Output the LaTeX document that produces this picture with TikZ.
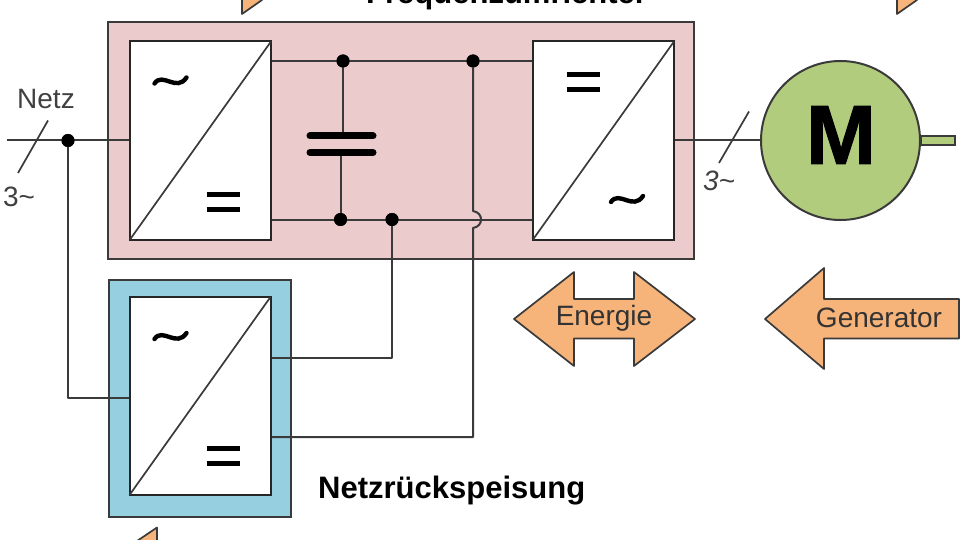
\documentclass[tikz,border=0pt]{standalone}
\usepackage{fontspec}
\setmainfont{Liberation Sans}
\newfontface\mface[FakeBold=1.2]{Liberation Sans Bold}
\usetikzlibrary{calc}
\definecolor{pinkbg}{HTML}{EBCBCC}
\definecolor{bluebg}{HTML}{96CFDF}
\definecolor{motor}{HTML}{B2CC7E}
\definecolor{arrowfill}{HTML}{F6B47A}
\definecolor{wire}{HTML}{3A3A3A}
\tikzset{
  x=1pt,y=-1pt,
  frame/.style={draw=wire,line width=2pt,anchor=north west,inner sep=0pt,outer sep=0pt},
  conv/.style={draw=black!85,line width=2pt,fill=white,anchor=north west,inner sep=0pt,outer sep=0pt,minimum width=141pt,minimum height=198pt},
  wireline/.style={draw=wire,line width=2pt,line join=round},
  thinline/.style={draw=wire,line width=1.7pt},
  dotnode/.style={circle,fill=black,inner sep=0pt,minimum size=13pt,outer sep=0pt},
  eqbar/.style={draw=black,line width=4.6pt},
  lbl/.style={inner sep=0pt,text=black!75,font=\fontsize{28}{28}\selectfont},
  title/.style={inner sep=0pt,font=\fontsize{31}{31}\selectfont\bfseries,text=black},
  arrowshape/.style={draw=wire,line width=1.7pt,fill=arrowfill,line join=round},
  arrowtext/.style={inner sep=0pt,text=black!80,font=\fontsize{28}{28}\selectfont},
}
\newcommand{\acsign}[2]{\draw[line width=4.4pt,line cap=round,black] (#1-16,#2+3) .. controls (#1-8,#2-9) and (#1+6,#2+12) .. (#1+16,#2-3);}
\newcommand{\eqsign}[2]{\draw[eqbar] (#1-16.5,#2-7.5) -- (#1+16.5,#2-7.5) (#1-16.5,#2+7.5) -- (#1+16.5,#2+7.5);}
\begin{document}
\begin{tikzpicture}
\useasboundingbox (0,0) rectangle (960,540);
\clip (0,0) rectangle (960,540);
% frames
\node[frame,fill=pinkbg,minimum width=586pt,minimum height=237pt] (fu) at (108,22) {};
\node[frame,fill=bluebg,minimum width=182pt,minimum height=237pt] (nr) at (108.5,280) {};
% coordinates and dots
\node[dotnode] (dn) at (68,140.5) {};
\node[dotnode] (dt1) at (343,61) {};
\node[dotnode] (dt2) at (473,61) {};
\node[dotnode] (db1) at (340.5,219.5) {};
\node[dotnode] (db2) at (392,219.5) {};
\coordinate (capT) at (343,136);
\coordinate (capB) at (340.5,153);
\coordinate (nstart) at (7,140.5);
\coordinate (mout) at (760,140.5);
% wires under converters
\draw[wireline] (nstart) -- (130,140.5);
\draw[wireline] (dn) -- (68,398) -- (130,398);
\draw[wireline] (271,61) -- (533,61);
\draw[wireline] (271,219.5) -- (533,219.5);
\draw[wireline] (dt1) -- (capT);
\draw[wireline] (capB) -- (db1);
\draw[wireline] (db2) -- (392,358) -- (271,358);
\draw[wireline] (dt2) -- (473,211) .. controls (479,212) and (481,216) .. (481,219.5) .. controls (481,223) and (479,227) .. (473,228) -- (473,437) -- (271,437);
\draw[wireline] (675,140.5) -- (mout);
% converters
\node[conv] (c1) at (130,41.5) {};
\node[conv] (c2) at (533,41.5) {};
\node[conv] (c3) at (129.5,297) {};
\draw[thinline] (c1.south west) -- (c1.north east);
\draw[thinline] (c2.south west) -- (c2.north east);
\draw[thinline] (c3.south west) -- (c3.north east);
% redraw dots on top
\node[dotnode] at (dn) {};
\node[dotnode] at (dt1) {};
\node[dotnode] at (dt2) {};
\node[dotnode] at (db1) {};
\node[dotnode] at (db2) {};
% symbols
\acsign{170.5}{80.5}
\eqsign{223}{202}
\eqsign{583}{82}
\acsign{627}{199}
\acsign{170.5}{336}
\eqsign{223}{456}
% capacitor
\draw[line width=7pt,line cap=round,black] (310,136) -- (373,136) (310,152.5) -- (373,152.5);
% slashes
\coordinate (s1a) at (48,120.5);
\coordinate (s1b) at (18,173);
\draw[thinline] (s1a) -- (s1b);
\coordinate (s2a) at (749,111.5);
\coordinate (s2b) at (719,163);
\draw[thinline] (s2a) -- (s2b);
% motor
\node[draw=wire,line width=1.7pt,fill=motor,rectangle,anchor=west,minimum width=34pt,minimum height=9pt,inner sep=0pt] (shaft) at (920,140.5) {};
\node[circle,draw=wire,line width=2pt,fill=motor,minimum size=159pt,inner sep=0pt] (mot) at (840.5,140.5) {};
\node[inner sep=0pt,font=\fontsize{84}{84}\mface] (mtext) at (841,135) {M};
% labels
\node[lbl] (netz) at (46,99) {Netz};
\node[lbl,anchor=center] (n3) at (19,197) {3\textasciitilde};
\node[lbl,anchor=center,font=\fontsize{28}{28}\selectfont\itshape] (m3) at (719,181) {3\textasciitilde};
\node[title,anchor=base west] (t1) at (366,4) {Frequenzumrichter};
\node[title,anchor=base west] (t2) at (318,498) {Netzrückspeisung};
% block arrows
\draw[arrowshape] (514,319) -- (574,272) -- (574,299) -- (634,299) -- (634,272) -- (695,319) -- (634,366) -- (634,338.5) -- (574,338.5) -- (574,366) -- cycle;
\node[arrowtext] (en) at (604,318) {Energie};
\draw[arrowshape] (765,319) -- (824,268) -- (824,299) -- (959,299) -- (959,338.5) -- (824,338.5) -- (824,369) -- cycle;
\node[arrowtext] (gen) at (879,318) {Generator};
% arrows cut off by the edge
\draw[arrowshape] (242,-20) -- (242,14) -- (262,0) -- (262,-20) -- cycle;
\draw[arrowshape] (897,-20) -- (897,14) -- (917,0) -- (917,-20) -- cycle;
\draw[arrowshape] (157,560) -- (157,527.5) -- (137,541) -- (137,560) -- cycle;
\end{tikzpicture}
\end{document}
